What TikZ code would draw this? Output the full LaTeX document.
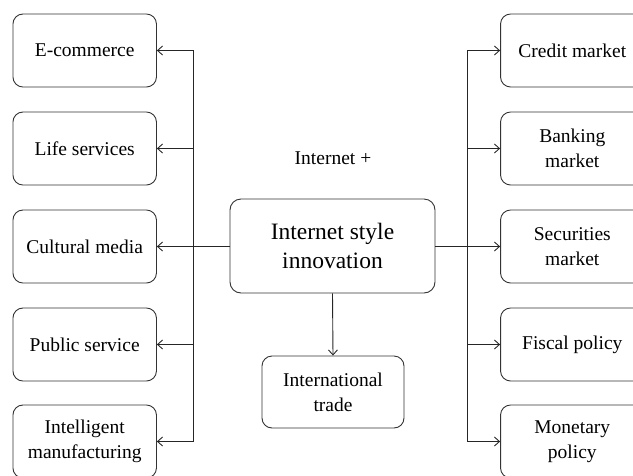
\documentclass[tikz,border=0pt]{standalone}
\usepackage{fontspec}
\setmainfont{Liberation Serif}
\usetikzlibrary{arrows.meta}
\begin{document}
\begin{tikzpicture}[x=1pt,y=-1pt,
  sbox/.style={draw=black!80, line width=0.9pt, rounded corners=10pt, minimum width=143.5pt, minimum height=73pt, inner sep=0pt, align=center, font=\fontsize{19.5}{25}\selectfont},
  cbox/.style={draw=black!80, line width=0.9pt, rounded corners=11pt, minimum width=205pt, minimum height=94pt, inner sep=0pt, align=center, font=\fontsize{23.5}{28.5}\selectfont},
  tbox/.style={sbox, minimum width=142pt, minimum height=72pt},
  conn/.style={draw=black!85, line width=0.9pt},
  arr/.style={conn, -{Straight Barb[length=5pt,width=9pt]}}]
\useasboundingbox (0,0) rectangle (633,475);
\clip (0,0) rectangle (633,475);
\node[sbox] (l1) at (84.7,50.5) {E-commerce};
\node[sbox] (l2) at (84.7,148.5) {Life services};
\node[sbox] (l3) at (84.7,246.5) {Cultural media};
\node[sbox] (l4) at (84.7,344.5) {Public service};
\node[sbox] (l5) at (84.7,441.5) {Intelligent\\manufacturing};
\node[sbox] (r1) at (572.3,50.5) {Credit market};
\node[sbox] (r2) at (572.3,148.5) {Banking\\market};
\node[sbox] (r3) at (572.3,246.5) {Securities\\market};
\node[sbox] (r4) at (572.3,344.5) {Fiscal policy};
\node[sbox] (r5) at (572.3,441.5) {Monetary\\policy};
\node[cbox] (c) at (332.5,246) {Internet style\\innovation};
\node[tbox] (t) at (333,392) {International\\trade};
\node[font=\fontsize{19.5}{25}\selectfont] (lab) at (333,158) {Internet +};
\coordinate (lx) at (193,246);
\coordinate (rx) at (467,246);
\foreach \n in {l1,l2,l3,l4,l5}
  \draw[arr] (c.west) -- (lx) |- (\n.east);
\foreach \n in {r1,r2,r3,r4,r5}
  \draw[arr] (c.east) -- (rx) |- (\n.west);
\draw[arr] (c.south) -- (t.north);
\end{tikzpicture}
\end{document}
